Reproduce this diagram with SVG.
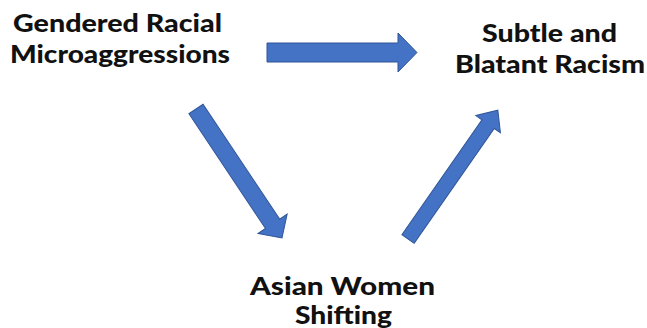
<svg xmlns="http://www.w3.org/2000/svg" width="647" height="328" viewBox="0 0 647 328">
<style>
.lbl{font-family:Lato,"Open Sans","Liberation Sans",sans-serif;font-weight:900;font-size:24px;fill:#111;text-anchor:middle}
.arr{fill:#4472C4;stroke:#2F5597;stroke-width:1;stroke-linejoin:miter}
</style>
<rect width="647" height="328" fill="#fff"/>
<g id="node-gendered">
<text class="lbl" x="117.5" y="32" textLength="209" lengthAdjust="spacingAndGlyphs">Gendered Racial</text>
<text class="lbl" x="120" y="63" textLength="220" lengthAdjust="spacingAndGlyphs">Microaggressions</text>
</g>
<g id="node-subtle">
<text class="lbl" x="549.5" y="42" textLength="135" lengthAdjust="spacingAndGlyphs">Subtle and</text>
<text class="lbl" x="550" y="73" textLength="190" lengthAdjust="spacingAndGlyphs">Blatant Racism</text>
</g>
<g id="node-asian">
<text class="lbl" x="342.5" y="295" textLength="185" lengthAdjust="spacingAndGlyphs">Asian Women</text>
<text class="lbl" x="343.5" y="324" textLength="97" lengthAdjust="spacingAndGlyphs">Shifting</text>
</g>
<g id="connectors">
<polygon class="arr" transform="translate(267,52.5)" points="0,-9.5 131,-9.5 131,-19.5 150,0 131,19.5 131,9.5 0,9.5"/>
<polygon class="arr" transform="translate(196,109) rotate(56.3)" points="0,-8.5 138,-8.5 138,-17.5 155,0 138,17.5 138,8.5 0,8.5"/>
<polygon class="arr" transform="translate(408,239) rotate(-55.1)" points="0,-7.5 140,-7.5 140,-15 157,0 140,15 140,7.5 0,7.5"/>
</g>
</svg>
